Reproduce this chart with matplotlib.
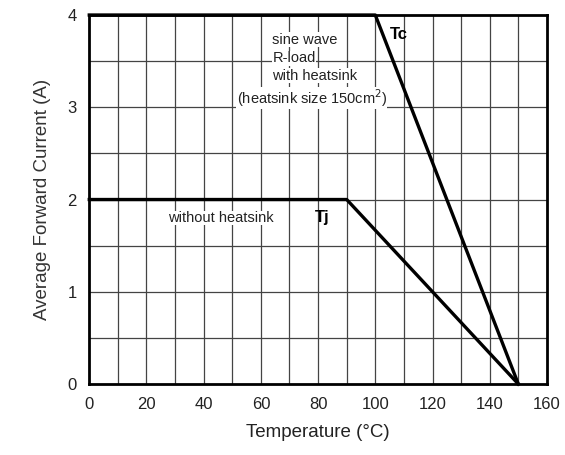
import matplotlib.pyplot as plt

plt.rcParams["font.family"] = ["Liberation Sans", "DejaVu Sans"]

# derating curves (temperature degC, current A)
tc_temp = [0, 100, 150]
tc_curr = [4, 4, 0]
tj_temp = [0, 90, 150]
tj_curr = [2, 2, 0]

x_ticks = list(range(0, 161, 20))
y_ticks = [0, 1, 2, 3, 4]

fig = plt.figure(figsize=(5.65, 4.55), dpi=100)
ax = fig.add_axes([0.158, 0.156, 0.81, 0.811])

# grid
for x in range(10, 160, 10):
    ax.axvline(x, color="#444444", lw=0.9, zorder=1)
for y in [0.5, 1, 1.5, 2, 2.5, 3, 3.5]:
    ax.axhline(y, color="#444444", lw=0.9, zorder=1)

ax.plot(tc_temp, tc_curr, color="black", lw=2.4, zorder=3, clip_on=False)
ax.plot(tj_temp, tj_curr, color="black", lw=2.4, zorder=3, clip_on=False)

box = dict(facecolor="white", edgecolor="none", pad=0.3)
txt = dict(fontsize=10.5, color="#222222", zorder=4)
ax.text(64, 3.73, "sine wave", bbox=box, va="center", **txt)
ax.text(64, 3.53, "R-load", bbox=box, va="center", **txt)
ax.text(64, 3.34, "with heatsink", bbox=box, va="center", **txt)
ax.text(51.5, 3.1, "(heatsink size 150cm$^2$)", bbox=box, va="center", **txt)
ax.text(27.5, 1.8, "without heatsink", bbox=box, va="center", **txt)
ax.text(105, 3.79, "Tc", fontsize=12, fontweight="bold", va="center", zorder=4)
ax.text(79, 1.8, "Tj", fontsize=12, fontweight="bold", va="center", zorder=4)

ax.set_xlim(0, 160)
ax.set_ylim(0, 4)
ax.set_xticks(x_ticks)
ax.set_yticks(y_ticks)
ax.tick_params(length=0, labelsize=12, pad=9, colors="#222222")
for s in ax.spines.values():
    s.set_linewidth(2)
ax.set_xlabel("Temperature (\u00b0C)", fontsize=13.5, labelpad=9, color="#222222")
ax.set_ylabel("Average Forward Current (A)", fontsize=13.5, labelpad=12, color="#333333")

fig.savefig("out.png", dpi=100)
